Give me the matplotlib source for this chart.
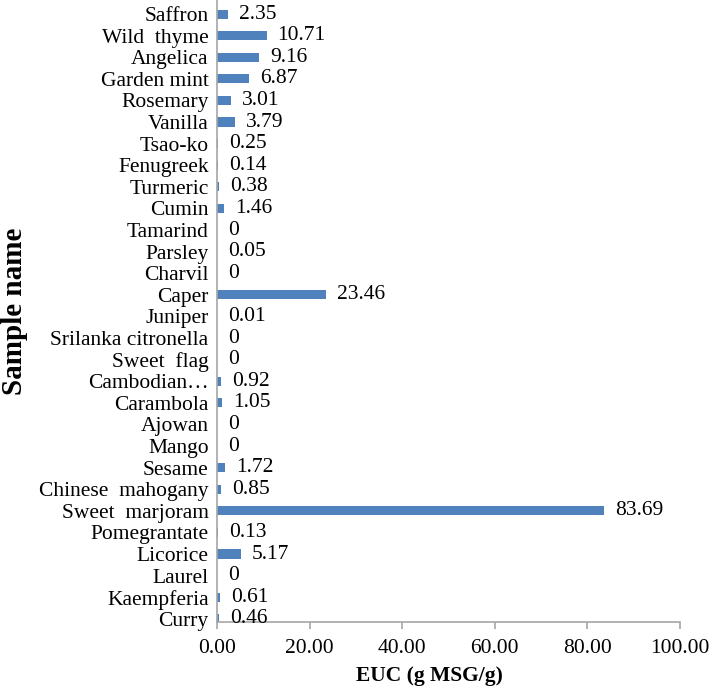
import numpy as np
import matplotlib
matplotlib.use("Agg")
from matplotlib import pyplot as plt
from matplotlib.ticker import FormatStrFormatter

# Data (bottom to top, as drawn)
samples = [
    "Curry", "Kaempferia", "Laurel", "Licorice", "Pomegrantate",
    "Sweet  marjoram", "Chinese  mahogany", "Sesame", "Mango", "Ajowan",
    "Carambola", "Cambodian\u2026", "Sweet  flag", "Srilanka citronella",
    "Juniper", "Caper", "Charvil", "Parsley", "Tamarind", "Cumin",
    "Turmeric", "Fenugreek", "Tsao-ko", "Vanilla", "Rosemary",
    "Garden mint", "Angelica", "Wild  thyme", "Saffron",
]
euc = [
    0.46, 0.61, 0, 5.17, 0.13,
    83.69, 0.85, 1.72, 0, 0,
    1.05, 0.92, 0, 0,
    0.01, 23.46, 0, 0.05, 0, 1.46,
    0.38, 0.14, 0.25, 3.79, 3.01,
    6.87, 9.16, 10.71, 2.35,
]
x_ticks = [0, 20, 40, 60, 80, 100]

plt.rcParams["font.family"] = ["Liberation Serif", "DejaVu Serif"]

fig = plt.figure(figsize=(7.09, 6.91), dpi=100)
ax = fig.add_axes([0.306, 0.0998, 0.653, 0.9002])

y = np.arange(len(samples))
ax.barh(y, euc, height=0.42, color="#4F81BD")

# Value labels
for yi, v in zip(y, euc):
    ax.annotate(f"{v:g}", xy=(v, yi), xytext=(8, 0), textcoords="offset points",
                va="center", ha="left", fontsize=15.5)

ax.set_xlim(0, 100)
ax.set_ylim(-0.15, 28.65)
ax.set_xticks(x_ticks)
ax.xaxis.set_major_formatter(FormatStrFormatter("%.2f"))
ax.set_yticks(y)
ax.set_yticklabels(samples)

for s in ["top", "right"]:
    ax.spines[s].set_visible(False)
for s in ["left", "bottom"]:
    ax.spines[s].set_color("#A6A6A6")
    ax.spines[s].set_linewidth(1.2)

ax.tick_params(axis="y", length=0, pad=6, labelsize=15.5)
ax.tick_params(axis="x", length=5, color="#A6A6A6", width=1.2,
               pad=7, labelsize=15.5)

ax.set_xlabel("EUC (g MSG/g)", fontsize=15.5, fontweight="bold", labelpad=6)
ax.xaxis.set_label_coords(0.46, -0.07)
ax.set_ylabel("Sample name", fontsize=21, fontweight="bold", labelpad=8)

fig.savefig("out.png", dpi=100)
